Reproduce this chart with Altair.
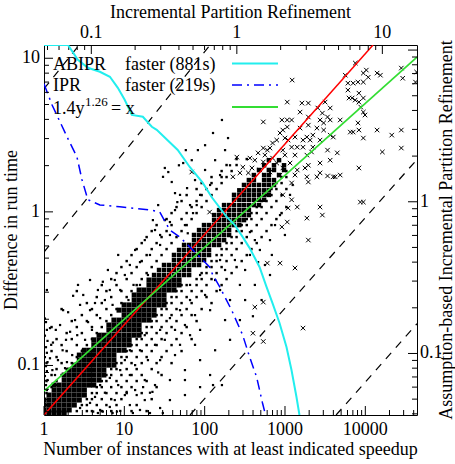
import altair as alt
import pandas as pd

FONT = "Liberation Serif"
W, H = 373, 370

# ---------------- data: cumulative speedup curves (bottom / left axes) ----------------
abipr_n = [1, 1.99, 2.64, 3.52, 4.96, 6.61, 8.30, 10.1, 12.4, 17.0, 22.0, 25.3, 46.2, 65.2,
           94.4, 122, 188, 236, 297, 362, 482, 589, 699, 855, 1044, 1205, 1390, 1514]
abipr_s = [12.2, 12.2, 9.78, 8.67, 8.17, 7.58, 6.42, 5.37, 4.28, 4.16, 3.58, 3.42, 2.53, 1.96,
           1.55, 1.25, 0.928, 0.823, 0.687, 0.583, 0.438, 0.325, 0.255, 0.189, 0.132, 0.0935, 0.0623, 0.0476]
ipr_n = [1, 1.257, 1.58, 1.99, 2.57, 2.97, 3.52, 4.96, 8.79, 20.7, 27.6, 36.7, 48.9, 65.2,
         86.7, 115, 126, 154, 216, 297, 362, 443, 525, 573]
ipr_s = [6.82, 4.98, 3.86, 2.99, 2.28, 1.62, 1.20, 1.11, 1.08, 1.03, 1.0, 0.763, 0.687, 0.592,
         0.509, 0.438, 0.389, 0.325, 0.230, 0.158, 0.114, 0.0842, 0.057, 0.0476]

# ---------------- data: reference lines (top / right axes) ----------------
diag_x = [0.0473, 8.63]            # y = x
diag_y = [0.0393, 10.8]
fit_x = [0.0473, 17.3]             # 1.4 y^1.26 = x
fit_y = [0.0565, 8.99]
guide_id = ["a", "a", "b", "b", "c", "c", "d", "d"]
guide_x = [0.477, 17.3, 4.81, 17.3, 0.0473, 0.655, 0.0473, 0.0826]
guide_y = [0.0393, 1.90, 0.0393, 0.157, 0.466, 10.8, 5.56, 10.8]

# ---------------- data: instances (IPR time, ABIPR time) ----------------
dense_rows = [
    (0.0405, [0.0473, 0.0512, 0.0555, 0.0601, 0.0651]),
    (0.0424, [0.0473, 0.0512, 0.0555, 0.0601, 0.0651, 0.0705]),
    (0.0457, [0.0473, 0.0512, 0.0555, 0.0601, 0.0651, 0.0705, 0.0764]),
    (0.0493, [0.0473, 0.0512, 0.0555, 0.0601, 0.0651, 0.0705, 0.0764, 0.0827]),
    (0.0532, [0.0512, 0.0555, 0.0601, 0.0651, 0.0705, 0.0764, 0.0827, 0.0896]),
    (0.0574, [0.0555, 0.0601, 0.0651, 0.0705, 0.0764, 0.0827, 0.0896]),
    (0.0619, [0.0555, 0.0601, 0.0651, 0.0705, 0.0764, 0.0827, 0.0896, 0.0971, 0.104]),
    (0.0668, [0.0651, 0.0705, 0.0764, 0.0827, 0.0896, 0.0971, 0.104, 0.113]),
    (0.0721, [0.0651, 0.0705, 0.0764, 0.0827, 0.0896, 0.0971, 0.104, 0.113, 0.122]),
    (0.0777, [0.0705, 0.0764, 0.0827, 0.0896, 0.0971, 0.104, 0.113, 0.122]),
    (0.0838, [0.0764, 0.0827, 0.0896, 0.0971, 0.104, 0.113, 0.122, 0.132, 0.143]),
    (0.0904, [0.0827, 0.0896, 0.0971, 0.104, 0.113, 0.122, 0.132, 0.143]),
    (0.0976, [0.0827, 0.0896, 0.0971, 0.104, 0.113, 0.122, 0.132, 0.143]),
    (0.105, [0.0896, 0.0971, 0.104, 0.113, 0.122, 0.132, 0.143, 0.155, 0.168]),
    (0.114, [0.104, 0.113, 0.122, 0.132, 0.143, 0.155, 0.168, 0.182]),
    (0.123, [0.104, 0.113, 0.122, 0.132, 0.143, 0.155, 0.168, 0.182]),
    (0.132, [0.113, 0.122, 0.132, 0.143, 0.155, 0.168, 0.182, 0.197, 0.213]),
    (0.143, [0.132, 0.143, 0.155, 0.168, 0.182, 0.197, 0.213]),
    (0.154, [0.132, 0.143, 0.155, 0.168, 0.182, 0.197, 0.213]),
    (0.166, [0.143, 0.155, 0.168, 0.182, 0.197, 0.213, 0.230, 0.249]),
    (0.179, [0.168, 0.182, 0.197, 0.213, 0.230, 0.249, 0.270]),
    (0.193, [0.155, 0.168, 0.182, 0.197, 0.213, 0.230, 0.249, 0.270]),
    (0.209, [0.168, 0.182, 0.197, 0.213, 0.230, 0.249, 0.270, 0.292, 0.316]),
    (0.225, [0.197, 0.213, 0.230, 0.249, 0.270, 0.292, 0.316]),
    (0.243, [0.197, 0.213, 0.230, 0.249, 0.270, 0.292, 0.316]),
    (0.262, [0.213, 0.230, 0.249, 0.270, 0.292, 0.316, 0.342, 0.370]),
    (0.283, [0.249, 0.270, 0.292, 0.316, 0.342, 0.370, 0.401]),
    (0.305, [0.249, 0.270, 0.292, 0.316, 0.342, 0.370, 0.401]),
]
mid_rows = [
    (0.329, [0.270, 0.292, 0.316, 0.342, 0.370, 0.401, 0.434, 0.470]),
    (0.355, [0.292, 0.316, 0.342, 0.370, 0.401, 0.434, 0.470]),
    (0.383, [0.316, 0.342, 0.370, 0.401, 0.434, 0.470, 0.508, 0.550]),
    (0.413, [0.370, 0.401, 0.434, 0.470, 0.508, 0.550, 0.595]),
    (0.446, [0.370, 0.401, 0.434, 0.470, 0.508, 0.550, 0.595, 0.644]),
    (0.481, [0.401, 0.434, 0.470, 0.508, 0.550, 0.595, 0.644]),
    (0.519, [0.434, 0.470, 0.508, 0.550, 0.595, 0.644, 0.698, 0.755]),
    (0.559, [0.508, 0.550, 0.595, 0.644, 0.698, 0.755, 0.817]),
    (0.604, [0.508, 0.550, 0.595, 0.644, 0.698, 0.755, 0.817, 0.885]),
    (0.651, [0.550, 0.595, 0.644, 0.698, 0.755, 0.817, 0.885]),
    (0.702, [0.595, 0.644, 0.698, 0.755, 0.817, 0.885, 0.957, 1.04]),
    (0.757, [0.698, 0.755, 0.817, 0.885, 0.957, 1.04, 1.12]),
    (0.817, [0.698, 0.755, 0.817, 0.885, 0.957, 1.04, 1.12, 1.21]),
    (0.881, [0.755, 0.817, 0.885, 0.957, 1.04, 1.12, 1.21]),
    (0.951, [0.817, 0.885, 0.957, 1.04, 1.12, 1.21, 1.31, 1.42]),
    (1.03, [0.957, 1.04, 1.12, 1.21, 1.31, 1.42, 1.54]),
    (1.11, [0.957, 1.04, 1.12, 1.21, 1.31, 1.42, 1.54, 1.66]),
    (1.19, [1.04, 1.12, 1.21, 1.31, 1.42, 1.54, 1.66]),
    (1.29, [1.12, 1.21, 1.31, 1.42, 1.54, 1.66, 1.80]),
    (1.39, [1.21, 1.31, 1.54, 1.66, 1.80]),
    (1.50, [1.31, 1.54, 1.66, 1.95]),
    (1.62, [1.42, 1.66, 1.80, 2.11]),
    (1.74, [1.54, 1.80, 2.11]),
    (1.88, [1.66, 1.95]),
]
halo_rows = [
    (0.0417, [0.0795, 0.0932, 0.101, 0.118, 0.137, 0.189, 0.240]),
    (0.0457, [0.0492, 0.0861, 0.0932, 0.109, 0.127, 0.149, 0.205]),
    (0.0500, [0.0932, 0.101, 0.118, 0.137, 0.161, 0.260]),
    (0.0548, [0.0492, 0.101, 0.109, 0.127, 0.149, 0.175, 0.222]),
    (0.0600, [0.0533, 0.109, 0.118, 0.137, 0.161, 0.189, 0.281]),
    (0.0658, [0.0492, 0.0577, 0.118, 0.127, 0.149, 0.175, 0.205, 0.240]),
    (0.0721, [0.0533, 0.0625, 0.127, 0.137, 0.161, 0.189, 0.222, 0.304]),
    (0.0789, [0.0577, 0.0677, 0.137, 0.149, 0.175, 0.205, 0.260]),
    (0.0864, [0.0492, 0.0625, 0.0734, 0.149, 0.161, 0.189, 0.222, 0.281, 0.356]),
    (0.0947, [0.0577, 0.0795, 0.161, 0.175, 0.205, 0.240, 0.304]),
    (0.1037, [0.0533, 0.0677, 0.0861, 0.175, 0.189, 0.222, 0.260, 0.329, 0.417]),
    (0.1136, [0.0625, 0.0795, 0.0932, 0.189, 0.205, 0.240, 0.281, 0.356]),
    (0.1244, [0.0577, 0.0734, 0.101, 0.205, 0.222, 0.260, 0.304, 0.385, 0.489]),
    (0.1363, [0.0677, 0.0861, 0.109, 0.222, 0.240, 0.281, 0.329, 0.417]),
    (0.1493, [0.0533, 0.0795, 0.101, 0.118, 0.240, 0.260, 0.304, 0.356, 0.452]),
    (0.1635, [0.0734, 0.0932, 0.127, 0.260, 0.281, 0.329, 0.385, 0.529]),
    (0.1791, [0.0861, 0.109, 0.137, 0.281, 0.304, 0.356, 0.417, 0.489]),
    (0.1962, [0.0625, 0.101, 0.127, 0.149, 0.304, 0.329, 0.385, 0.452, 0.573]),
    (0.2149, [0.0932, 0.118, 0.161, 0.329, 0.356, 0.417, 0.489, 0.670]),
    (0.2354, [0.109, 0.137, 0.175, 0.356, 0.385, 0.452, 0.529, 0.619]),
    (0.2578, [0.0795, 0.127, 0.161, 0.189, 0.385, 0.417, 0.489, 0.573, 0.726]),
    (0.2824, [0.118, 0.149, 0.205, 0.417, 0.452, 0.529, 0.619, 0.786]),
    (0.3093, [0.137, 0.175, 0.222, 0.529, 0.573, 0.670, 0.850]),
    (0.3388, [0.149, 0.189, 0.240, 0.573, 0.619, 0.726, 0.921]),
    (0.3711, [0.161, 0.205, 0.260, 0.619, 0.670, 0.786, 0.996]),
    (0.4065, [0.175, 0.222, 0.281, 0.670, 0.726, 0.850, 1.08]),
    (0.4452, [0.189, 0.240, 0.304, 0.726, 0.786, 0.921, 1.17]),
    (0.4877, [0.205, 0.260, 0.329, 0.786, 0.850, 0.996, 1.26]),
    (0.5341, [0.222, 0.281, 0.356, 0.850, 0.921, 1.08, 1.37]),
    (0.5851, [0.240, 0.304, 0.385, 0.921, 0.996, 1.17, 1.48]),
    (0.6409, [0.260, 0.329, 0.417, 0.996, 1.08, 1.26, 1.60]),
    (0.7020, [0.281, 0.356, 0.452, 1.08, 1.17, 1.37, 1.73]),
    (0.7690, [0.329, 0.417, 0.489, 1.17, 1.26, 1.48, 1.87]),
    (0.8423, [0.356, 0.452, 0.529, 1.26, 1.37, 1.60, 2.03]),
    (0.9226, [0.385, 0.489, 0.573, 1.37, 1.48, 1.73, 2.19]),
    (1.011, [0.417, 0.529, 0.619, 1.48, 1.60, 1.87]),
    (1.107, [0.452, 0.573, 0.670, 1.60, 1.73, 2.03]),
    (1.213, [0.529, 0.619, 0.726, 1.73, 1.87, 2.19]),
    (1.328, [0.573, 0.670, 0.786, 1.87, 2.03]),
    (1.455, [0.670, 0.786, 0.850, 2.03, 2.19]),
    (1.594, [0.786, 0.921, 2.19]),
    (1.746, [0.850, 0.996]),
    (1.912, [0.996, 1.17]),
]
sparse_points = [
    (0.0488, 0.161), (0.0495, 0.143), (0.048, 0.131), (0.050, 0.121), (0.0488, 0.110), (0.0495, 0.101),
    (0.048, 0.0946), (0.050, 0.0877), (0.0488, 0.0825), (0.0495, 0.0765), (0.048, 0.071), (0.050, 0.0668),
    (0.0488, 0.0619), (0.0495, 0.0574), (0.052, 0.147), (0.053, 0.114), (0.052, 0.093), (0.054, 0.0777),
    (0.048, 0.17), (0.0495, 0.262),
    (0.0563, 0.0721), (0.0590, 0.0904), (0.0635, 0.105), (0.0545, 0.118), (0.0670, 0.123), (0.0715, 0.139),
    (0.061, 0.154), (0.0773, 0.166), (0.0693, 0.187), (0.0837, 0.209), (0.081, 0.283), (0.088, 0.243),
    (0.098, 0.193), (0.106, 0.215), (0.095, 0.161), (0.0739, 0.0976), (0.066, 0.080), (0.0579, 0.0619),
    (0.0906, 0.123), (0.101, 0.143), (0.115, 0.171), (0.124, 0.225), (0.134, 0.262), (0.111, 0.262),
    (0.145, 0.305), (0.158, 0.262), (0.170, 0.329), (0.130, 0.355), (0.184, 0.383), (0.153, 0.446),
    (0.12, 0.297), (0.098, 0.305), (0.14, 0.209), (0.08, 0.132), (0.087, 0.105), (0.068, 0.0877),
    (0.057, 0.143), (0.064, 0.193), (0.075, 0.24),
    (0.200, 0.481), (0.216, 0.40), (0.233, 0.559), (0.253, 0.446), (0.274, 0.651), (0.297, 0.519),
    (0.32, 0.757), (0.347, 0.604), (0.288, 0.951), (0.376, 0.881), (0.407, 1.11), (0.44, 0.702),
    (0.477, 0.951), (0.516, 1.39), (0.559, 1.11), (0.605, 1.62), (0.655, 1.29), (0.709, 1.88),
    (0.767, 1.50), (0.83, 2.19), (0.898, 1.74), (0.338, 1.57), (0.40, 1.74), (0.32, 1.67),
    (0.357, 1.35), (0.311, 1.46), (0.428, 1.80), (0.49, 1.88), (0.455, 1.23), (0.376, 1.14),
    (0.39, 0.995), (0.265, 0.757), (0.297, 0.604), (0.347, 0.735), (0.50, 0.842), (0.46, 0.62),
    (0.53, 0.951), (0.605, 2.36), (0.686, 2.84), (0.79, 3.46), (0.87, 2.63), (0.54, 2.19),
    (0.446, 2.19), (0.216, 0.283), (0.18, 0.225), (0.195, 0.283), (0.245, 0.329),
    (0.0837, 0.0437), (0.098, 0.0472), (0.115, 0.0424), (0.134, 0.0444), (0.158, 0.0418), (0.106, 0.0517),
    (0.124, 0.0551), (0.145, 0.0493), (0.170, 0.0532), (0.184, 0.0457), (0.216, 0.0424), (0.233, 0.0493),
    (0.20, 0.0574), (0.253, 0.0551), (0.297, 0.0437), (0.347, 0.0493), (0.559, 0.060), (0.686, 0.0619),
    (0.79, 0.0619), (0.44, 0.0532), (0.175, 0.0558), (0.205, 0.0532), (0.227, 0.060), (0.263, 0.0558),
    (0.31, 0.0405), (0.103, 0.0414), (0.111, 0.0405), (0.12, 0.0414), (0.14, 0.0405), (0.15, 0.0414),
    (0.193, 0.0405), (0.253, 0.0405),
    (0.115, 0.0619), (0.134, 0.0690), (0.153, 0.0619), (0.13, 0.0838), (0.158, 0.0777), (0.184, 0.0721),
    (0.170, 0.0904), (0.20, 0.0838), (0.216, 0.105), (0.245, 0.0904), (0.274, 0.114), (0.184, 0.105),
    (0.233, 0.132), (0.297, 0.143), (0.253, 0.166), (0.32, 0.123), (0.347, 0.171), (0.376, 0.143),
    (0.407, 0.193), (0.44, 0.154), (0.477, 0.225), (0.516, 0.179), (0.559, 0.143), (0.605, 0.243),
    (0.655, 0.193), (0.376, 0.262), (0.477, 0.283), (0.559, 0.329), (0.709, 0.305), (0.83, 0.355),
    (0.767, 0.262), (0.898, 0.225), (1.05, 0.283), (0.97, 0.413), (1.14, 0.355), (1.23, 0.446),
    (1.33, 0.559), (1.44, 0.481), (1.56, 0.383), (1.23, 0.631), (1.40, 0.40), (1.33, 0.283),
    (1.48, 0.225), (1.29, 0.176), (1.05, 0.166), (0.898, 0.123), (0.709, 0.105), (0.559, 0.0904),
    (0.44, 0.0777), (0.347, 0.0668), (0.288, 0.075), (0.655, 0.0721), (0.516, 0.114), (0.83, 0.166),
    (0.376, 0.0976), (0.477, 0.132), (0.233, 0.0668), (0.297, 0.0904), (0.407, 0.114), (0.274, 0.0619),
    (0.44, 0.0668), (1.69, 0.559), (1.83, 0.702), (1.98, 0.817), (1.74, 0.446), (2.14, 0.604),
    (2.32, 1.11), (2.42, 1.29), (1.69, 0.329), (1.14, 0.225), (0.767, 0.413),
]
cross_points = [
    (6.52, 8.21), (2.40, 6.34), (5.56, 6.83), (7.40, 7.05), (7.76, 7.38), (8.0, 6.62), (9.2, 7.05), (9.7, 6.83),
    (13.8, 6.52), (16.9, 6.15), (5.8, 6.05), (6.3, 6.05), (6.8, 6.15), (7.4, 6.15), (5.8, 5.45), (6.9, 5.20),
    (5.9, 4.83), (6.2, 4.83), (6.5, 4.68), (6.9, 4.54), (7.4, 4.83), (7.1, 4.21), (7.4, 3.90), (7.6, 3.73),
    (2.22, 4.54), (2.8, 4.47), (3.1, 4.47), (2.72, 3.90), (4.04, 4.54), (3.6, 4.15), (4.38, 4.15), (3.1, 3.62),
    (2.04, 3.46), (2.22, 3.46), (2.38, 3.46), (1.52, 3.36), (3.87, 3.84), (4.2, 3.62), (5.13, 3.46), (6.8, 3.31),
    (2.22, 3.11), (2.07, 2.97), (2.72, 3.06), (3.1, 3.20), (3.73, 3.46), (3.95, 3.31), (4.38, 3.46), (3.55, 3.06),
    (6.02, 2.88), (6.3, 2.88), (6.9, 2.97), (9.2, 2.97), (11.6, 2.75), (7.4, 2.63), (1.98, 2.84), (2.14, 2.63),
    (2.51, 2.67), (3.03, 2.67), (3.33, 2.75), (3.95, 2.97), (4.38, 2.75), (1.88, 2.55), (2.25, 2.55), (2.85, 2.55),
    (3.19, 2.55), (3.73, 2.55), (4.6, 2.67), (1.76, 2.44), (2.38, 2.29), (2.6, 2.29), (2.85, 2.29), (3.33, 2.29),
    (4.2, 2.19), (1.69, 2.26), (1.52, 2.26), (1.62, 2.19), (1.40, 2.10), (1.56, 2.03), (2.07, 2.19), (2.14, 2.03),
    (2.51, 2.03), (3.03, 2.03), (3.26, 2.13), (4.9, 2.10), (10.0, 2.13), (13.5, 2.26), (1.0, 1.97), (1.23, 1.94),
    (1.33, 1.88), (1.52, 1.83), (1.76, 1.94), (1.88, 1.80), (2.32, 1.80), (3.1, 1.74), (3.73, 1.80), (4.38, 1.88),
    (1.1, 1.69), (1.27, 1.67), (1.44, 1.62), (1.69, 1.57), (2.07, 1.67), (2.6, 1.62), (2.94, 1.67), (3.73, 1.55),
    (4.6, 1.46), (6.9, 1.67), (1.05, 1.55), (1.2, 1.55), (0.94, 1.46), (1.98, 1.50), (2.51, 1.50), (3.03, 1.46),
    (3.55, 1.46), (4.2, 1.48), (4.74, 1.46), (5.13, 1.50), (2.38, 1.33), (3.1, 1.35), (7.06, 0.995), (7.4, 0.995),
    (2.07, 1.11), (2.38, 1.03), (2.6, 0.923), (2.25, 0.909), (3.73, 0.923), (3.87, 0.817), (3.03, 0.78), (2.22, 0.735),
    (2.04, 0.682), (3.1, 0.559), (1.98, 0.394), (2.51, 0.366), (1.52, 0.218), (2.85, 0.147), (1.52, 0.120), (1.33, 0.202),
    (1.29, 0.136), (13.5, 7.61), (17.2, 7.16), (13.5, 2.97), (0.65, 0.855), (0.49, 1.57), (1.62, 0.394),
]

# ---------------- tick values and labels ----------------
bottom_major = [1, 10, 100, 1000, 10000]
bottom_minor = [2, 3, 4, 5, 6, 7, 8, 9, 20, 30, 40, 50, 60, 70, 80, 90, 200, 300, 400, 500, 600, 700, 800, 900,
                2000, 3000, 4000, 5000, 6000, 7000, 8000, 9000, 20000, 30000, 40000]
left_major = [0.1, 1, 10]
left_minor = [0.05, 0.06, 0.07, 0.08, 0.09, 0.2, 0.3, 0.4, 0.5, 0.6, 0.7, 0.8, 0.9, 2, 3, 4, 5, 6, 7, 8, 9]
top_major = [0.1, 1, 10]
top_minor = [0.05, 0.06, 0.07, 0.08, 0.09, 0.2, 0.3, 0.4, 0.5, 0.6, 0.7, 0.8, 0.9, 2, 3, 4, 5, 6, 7, 8, 9]
right_major = [0.1, 1, 10]
right_minor = [0.04, 0.05, 0.06, 0.07, 0.08, 0.09, 0.2, 0.3, 0.4, 0.5, 0.6, 0.7, 0.8, 0.9, 2, 3, 4, 5, 6, 7, 8, 9]
bottom_labels = ["1", "10", "100", "1000", "10000"]
left_labels = ["0.1", "1", "10"]
top_labels = ["0.1", "1", "10"]
right_label_values = [0.1, 1]
right_labels = ["0.1", "1"]
titles = {
    "bottom": "Number of instances with at least indicated speedup",
    "left": "Difference in run time",
    "top": "Incremental Partition Refinement",
    "right": "Assumption-based Incremental Partition Refinement",
}

# ---------------- scales ----------------
sx_bottom = alt.Scale(type="log", domain=[1, 44000], nice=False)
sy_left = alt.Scale(type="log", domain=[0.0476, 12.2], nice=False)
sx_top = alt.Scale(type="log", domain=[0.0473, 17.3], nice=False)
sy_right = alt.Scale(type="log", domain=[0.0393, 10.8], nice=False)


def rows_to_df(rows):
    xs, ys = [], []
    for yv, xl in rows:
        for xv in xl:
            xs.append(xv)
            ys.append(yv)
    return pd.DataFrame({"ipr": xs, "abipr": ys})


dense_df = rows_to_df(dense_rows)
mid_df = rows_to_df(mid_rows)
halo_df = rows_to_df(halo_rows)
sparse_df = pd.DataFrame(sparse_points, columns=["ipr", "abipr"])
cross_df = pd.DataFrame(cross_points, columns=["ipr", "abipr"])
diag_df = pd.DataFrame({"ipr": diag_x, "abipr": diag_y})
fit_df = pd.DataFrame({"ipr": fit_x, "abipr": fit_y})
guide_df = pd.DataFrame({"g": guide_id, "ipr": guide_x, "abipr": guide_y})
abipr_df = pd.DataFrame({"i": list(range(len(abipr_n))), "n": abipr_n, "s": abipr_s})
ipr_df = pd.DataFrame({"i": list(range(len(ipr_n))), "n": ipr_n, "s": ipr_s})


def xy_top():
    return dict(x=alt.X("ipr:Q", scale=sx_top, axis=None),
                y=alt.Y("abipr:Q", scale=sy_right, axis=None))


def text_style(**kw):
    base = dict(font=FONT, fontSize=18, color="black")
    base.update(kw)
    return base


def vticks(values, scale, y0, y1):
    return alt.Chart(pd.DataFrame({"v": values})).mark_rule(color="black", strokeWidth=1).encode(
        x=alt.X("v:Q", scale=scale, axis=None), y=alt.value(y0), y2=alt.value(y1))


def hticks(values, scale, x0, x1):
    return alt.Chart(pd.DataFrame({"v": values})).mark_rule(color="black", strokeWidth=1).encode(
        y=alt.Y("v:Q", scale=scale, axis=None), x=alt.value(x0), x2=alt.value(x1))


def xlabels(values, labels, scale, y):
    return alt.Chart(pd.DataFrame({"v": values, "t": labels})).mark_text(
        **text_style(align="center", baseline="middle")).encode(
        x=alt.X("v:Q", scale=scale, axis=None), y=alt.value(y), text="t:N")


def ylabels(values, labels, scale, x, align):
    return alt.Chart(pd.DataFrame({"v": values, "t": labels})).mark_text(
        **text_style(align=align, baseline="middle")).encode(
        y=alt.Y("v:Q", scale=scale, axis=None), x=alt.value(x), text="t:N")


def title(txt, x, y, angle=0):
    kw = text_style(align="center", baseline="middle")
    if angle:
        kw["angle"] = angle
    return alt.Chart(pd.DataFrame({"t": [txt]})).mark_text(**kw).encode(
        x=alt.value(x), y=alt.value(y), text="t:N")


# ---- scatter and lines on the IPR / ABIPR axes (top / right) ----
dense = alt.Chart(dense_df).mark_square(size=25, color="black", opacity=1, clip=True).encode(**xy_top())
mid = alt.Chart(mid_df).mark_square(size=20, color="black", opacity=1, clip=True).encode(**xy_top())
halo = alt.Chart(halo_df).mark_square(size=6, color="black", opacity=1, clip=True).encode(**xy_top())
sparse = alt.Chart(sparse_df).mark_square(size=5, color="black", opacity=1, clip=True).encode(**xy_top())
crosses = alt.Chart(cross_df).mark_point(shape="M-1,-1L1,1M-1,1L1,-1", size=20, filled=False,
                                         strokeWidth=1, color="black", opacity=1, clip=True).encode(**xy_top())
guides = alt.Chart(guide_df).mark_line(color="black", strokeWidth=1.2, strokeDash=[8, 7], clip=True).encode(
    detail="g:N", **xy_top())
diag = alt.Chart(diag_df).mark_line(color="#ff0000", strokeWidth=1.5, clip=True).encode(**xy_top())
fit = alt.Chart(fit_df).mark_line(color="#33dd33", strokeWidth=1.8, clip=True).encode(**xy_top())

layer_top = alt.layer(
    dense, mid, halo, sparse, crosses, guides, diag, fit,
    vticks(top_major, sx_top, 0, 9), vticks(top_minor, sx_top, 0, 5),
    hticks(right_major, sy_right, W, W - 9), hticks(right_minor, sy_right, W, W - 5),
    xlabels(top_major, top_labels, sx_top, -12),
    ylabels(right_label_values, right_labels, sy_right, W + 3, "left"),
)

# ---- speedup curves on instance-count / difference axes (bottom / left) ----
abipr_line = alt.Chart(abipr_df).mark_line(color="#22eeee", strokeWidth=2, clip=True).encode(
    x=alt.X("n:Q", scale=sx_bottom, axis=None),
    y=alt.Y("s:Q", scale=sy_left, axis=None),
    order="i:Q")
ipr_line = alt.Chart(ipr_df).mark_line(color="#0000ff", strokeWidth=1.5, strokeDash=[10, 5, 2, 5],
                                      clip=True).encode(
    x=alt.X("n:Q", scale=sx_bottom, axis=None),
    y=alt.Y("s:Q", scale=sy_left, axis=None),
    order="i:Q")

layer_bottom = alt.layer(
    abipr_line, ipr_line,
    vticks(bottom_major, sx_bottom, H, H - 9), vticks(bottom_minor, sx_bottom, H, H - 5),
    hticks(left_major, sy_left, 0, 9), hticks(left_minor, sy_left, 0, 5),
    xlabels(bottom_major, bottom_labels, sx_bottom, H + 15),
    ylabels(left_major, left_labels, sy_left, -4, "right"),
)

# ---- key and titles ----
def label(txt, x, y, size=18):
    return alt.Chart(pd.DataFrame({"t": [txt]})).mark_text(
        **text_style(fontSize=size, align="left", baseline="middle")).encode(
        x=alt.value(x), y=alt.value(y), text="t:N")


def sample(color, y, width, dash=None):
    kw = dict(color=color, strokeWidth=width)
    if dash:
        kw["strokeDash"] = dash
    return alt.Chart(pd.DataFrame({"k": [0]})).mark_rule(**kw).encode(
        x=alt.value(188), x2=alt.value(234), y=alt.value(y))


key = alt.layer(
    label("ABIPR", 9, 19.5), label("faster (881s)", 81, 19.5), sample("#22eeee", 18.5, 2),
    label("IPR", 9, 41), label("faster (219s)", 81, 41), sample("#0000ff", 40, 1.5, [10, 5, 2, 5]),
    label("1.4y", 9, 63.5), label("1.26", 41, 56.5, 13), label("= x", 67, 63.5),
    sample("#33dd33", 62, 1.8),
    title(titles["bottom"], W / 2, H + 35),
    title(titles["top"], W / 2, -32),
    title(titles["left"], -32, H / 2, 270),
    title(titles["right"], W + 30, H / 2, 270),
)

chart = alt.layer(layer_top, layer_bottom, key).resolve_scale(
    x="independent", y="independent"
).properties(
    width=W, height=H,
    autosize=alt.AutoSizeParams(type="none"),
    padding={"left": 44, "top": 45, "right": 38, "bottom": 49},
).configure_view(stroke="black", strokeWidth=1)

chart.save("out.html", embed_options={"renderer": "svg", "actions": False})
